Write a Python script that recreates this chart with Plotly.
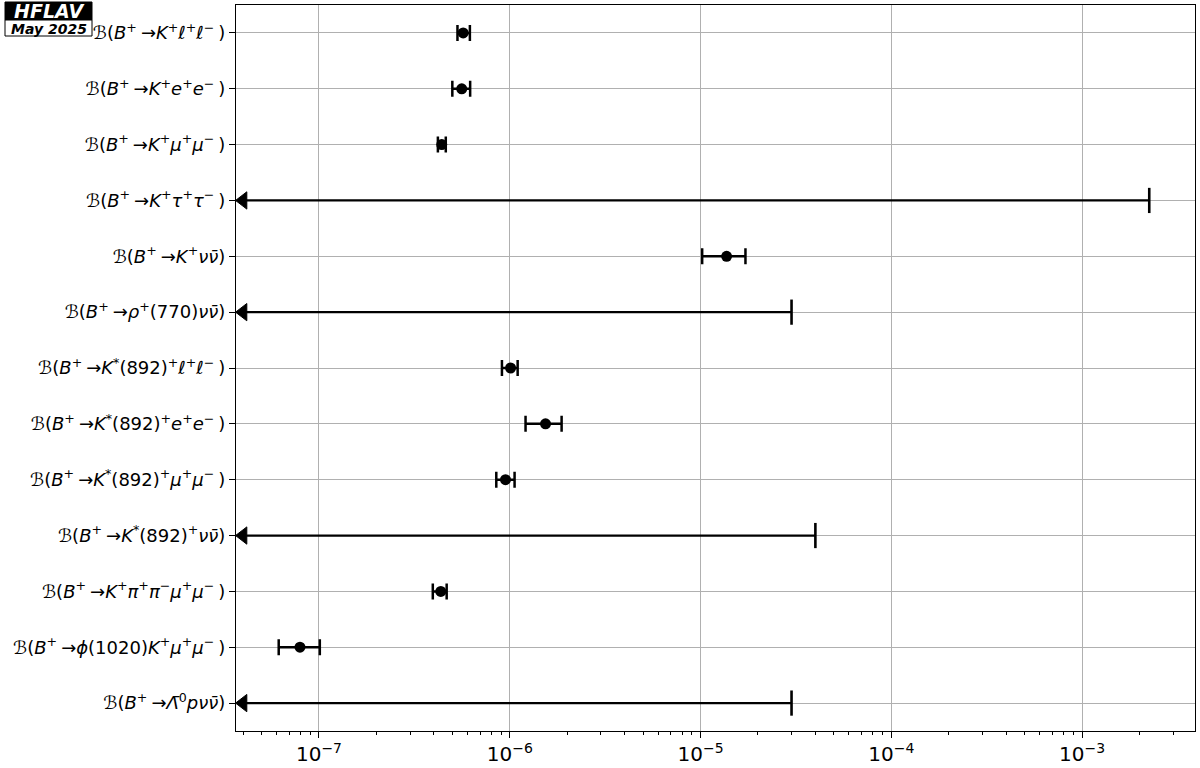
import plotly.graph_objects as go

B = "<i>ℬ</i>"
nub = "<i>ν̄</i>"
pre = B + "(<i>B</i><sup>+ </sup>→<i>"
categories = [
    pre + "K</i><sup>+</sup><i>ℓ</i><sup>+</sup><i>ℓ</i><sup>− </sup>)",
    pre + "K</i><sup>+</sup><i>e</i><sup>+</sup><i>e</i><sup>− </sup>)",
    pre + "K</i><sup>+</sup><i>μ</i><sup>+</sup><i>μ</i><sup>− </sup>)",
    pre + "K</i><sup>+</sup><i>τ</i><sup>+</sup><i>τ</i><sup>− </sup>)",
    pre + "K</i><sup>+</sup><i>ν</i>" + nub + ")",
    pre + "ρ</i><sup>+</sup>(770)<i>ν</i>" + nub + ")",
    pre + "K</i><sup>*</sup>(892)<sup>+</sup><i>ℓ</i><sup>+</sup><i>ℓ</i><sup>− </sup>)",
    pre + "K</i><sup>*</sup>(892)<sup>+</sup><i>e</i><sup>+</sup><i>e</i><sup>− </sup>)",
    pre + "K</i><sup>*</sup>(892)<sup>+</sup><i>μ</i><sup>+</sup><i>μ</i><sup>− </sup>)",
    pre + "K</i><sup>*</sup>(892)<sup>+</sup><i>ν</i>" + nub + ")",
    pre + "K</i><sup>+</sup><i>π</i><sup>+</sup><i>π</i><sup>−</sup><i>μ</i><sup>+</sup><i>μ</i><sup>− </sup>)",
    pre + "ϕ</i>(1020)<i>K</i><sup>+</sup><i>μ</i><sup>+</sup><i>μ</i><sup>− </sup>)",
    pre + "Λ̄</i><sup>0</sup><i>pν</i>" + nub + ")",
]

# measurements: (category index, central value, + error, - error)
meas_idx = [0, 1, 2, 4, 6, 7, 8, 10, 11]
meas_val = [5.7e-7, 5.6e-7, 4.4e-7, 1.37e-5, 1.01e-6, 1.54e-6, 9.5e-7, 4.35e-7, 7.95e-8]
meas_up = [0.48e-7, 0.6e-7, 0.22e-7, 0.35e-5, 0.09e-6, 0.33e-6, 1.1e-7, 0.32e-7, 2.15e-8]
meas_dn = [0.38e-7, 0.6e-7, 0.2e-7, 0.35e-5, 0.10e-6, 0.33e-6, 1.0e-7, 0.4e-7, 1.8e-8]

# upper limits
lim_idx = [3, 5, 9, 12]
lim_val = [2.25e-3, 3.0e-5, 4.0e-5, 3.0e-5]
arrow_start = 4.0e-8

fig = go.Figure()

for i, v in zip(lim_idx, lim_val):
    fig.add_trace(go.Scatter(
        x=[arrow_start, v], y=[categories[i], categories[i]],
        mode="lines",
        line=dict(color="#000000", width=2.2),
        cliponaxis=False, showlegend=False,
    ))
    fig.add_trace(go.Scatter(
        x=[arrow_start], y=[categories[i]], mode="markers",
        marker=dict(symbol="triangle-left", size=15, color="#000000",
                    line=dict(color="#000000", width=1)),
        cliponaxis=False, showlegend=False,
    ))
    fig.add_trace(go.Scatter(
        x=[v], y=[categories[i]], mode="markers",
        marker=dict(symbol="line-ns", size=18, color="#000000",
                    line=dict(color="#000000", width=2.6)),
        cliponaxis=False, showlegend=False,
    ))

fig.add_trace(go.Scatter(
    x=meas_val, y=[categories[i] for i in meas_idx],
    mode="markers",
    marker=dict(symbol="circle", size=11, color="black"),
    error_x=dict(type="data", array=meas_up, arrayminus=meas_dn, symmetric=False,
                 color="black", thickness=2.5, width=8),
    showlegend=False,
))

W, H = 1200, 768
ML, MR, MT, MB = 236, 5, 5, 37
fig.update_layout(
    width=W, height=H,
    margin=dict(l=ML, r=MR, t=MT, b=MB),
    plot_bgcolor="white", paper_bgcolor="white",
    font=dict(family="DejaVu Sans", size=18, color="black"),
)

fig.update_xaxes(
    type="log", range=[-7.435, -2.408], automargin=False,
    dtick=1, exponentformat="power",
    showgrid=True, gridcolor="#b0b0b0", gridwidth=1,
    ticks="outside", ticklen=6, tickwidth=1, tickcolor="black",
    minor=dict(ticks="outside", ticklen=3, tickcolor="black", dtick="D1", showgrid=False),
    showline=True, linecolor="black", linewidth=1, mirror=True,
    zeroline=False, tickfont=dict(size=16),
)
fig.update_yaxes(
    type="category", categoryorder="array", categoryarray=categories,
    range=[12.5, -0.5], automargin=False,
    showgrid=True, gridcolor="#b0b0b0", gridwidth=1,
    ticks="outside", ticklen=6, tickcolor="black",
    showline=True, linecolor="black", linewidth=1, mirror=True,
    tickfont=dict(size=18),
)

pw, ph = W - ML - MR, H - MT - MB
def px(x):
    return (x - ML) / pw
def py(y):
    return (H - MB - y) / ph

fig.add_shape(type="rect", xref="paper", yref="paper",
              x0=px(5), x1=px(92), y0=py(20), y1=py(2),
              fillcolor="black", line=dict(color="black", width=1), layer="above")
fig.add_shape(type="rect", xref="paper", yref="paper",
              x0=px(5), x1=px(92), y0=py(36), y1=py(20),
              fillcolor="white", line=dict(color="black", width=1), layer="above")
fig.add_annotation(x=px(48.5), y=py(11.5), xref="paper", yref="paper",
                   xanchor="center", yanchor="middle",
                   text="<b><i>HFLAV</i></b>", showarrow=False,
                   font=dict(family="DejaVu Sans", size=19, color="white"))
fig.add_annotation(x=px(48.5), y=py(28.5), xref="paper", yref="paper",
                   xanchor="center", yanchor="middle",
                   text="<b><i>May 2025</i></b>", showarrow=False,
                   font=dict(family="DejaVu Sans", size=14, color="black"))

fig.write_html("out.html", config={"displayModeBar": False},
               post_script="document.body.style.margin='0px';document.body.style.overflow='hidden';")
